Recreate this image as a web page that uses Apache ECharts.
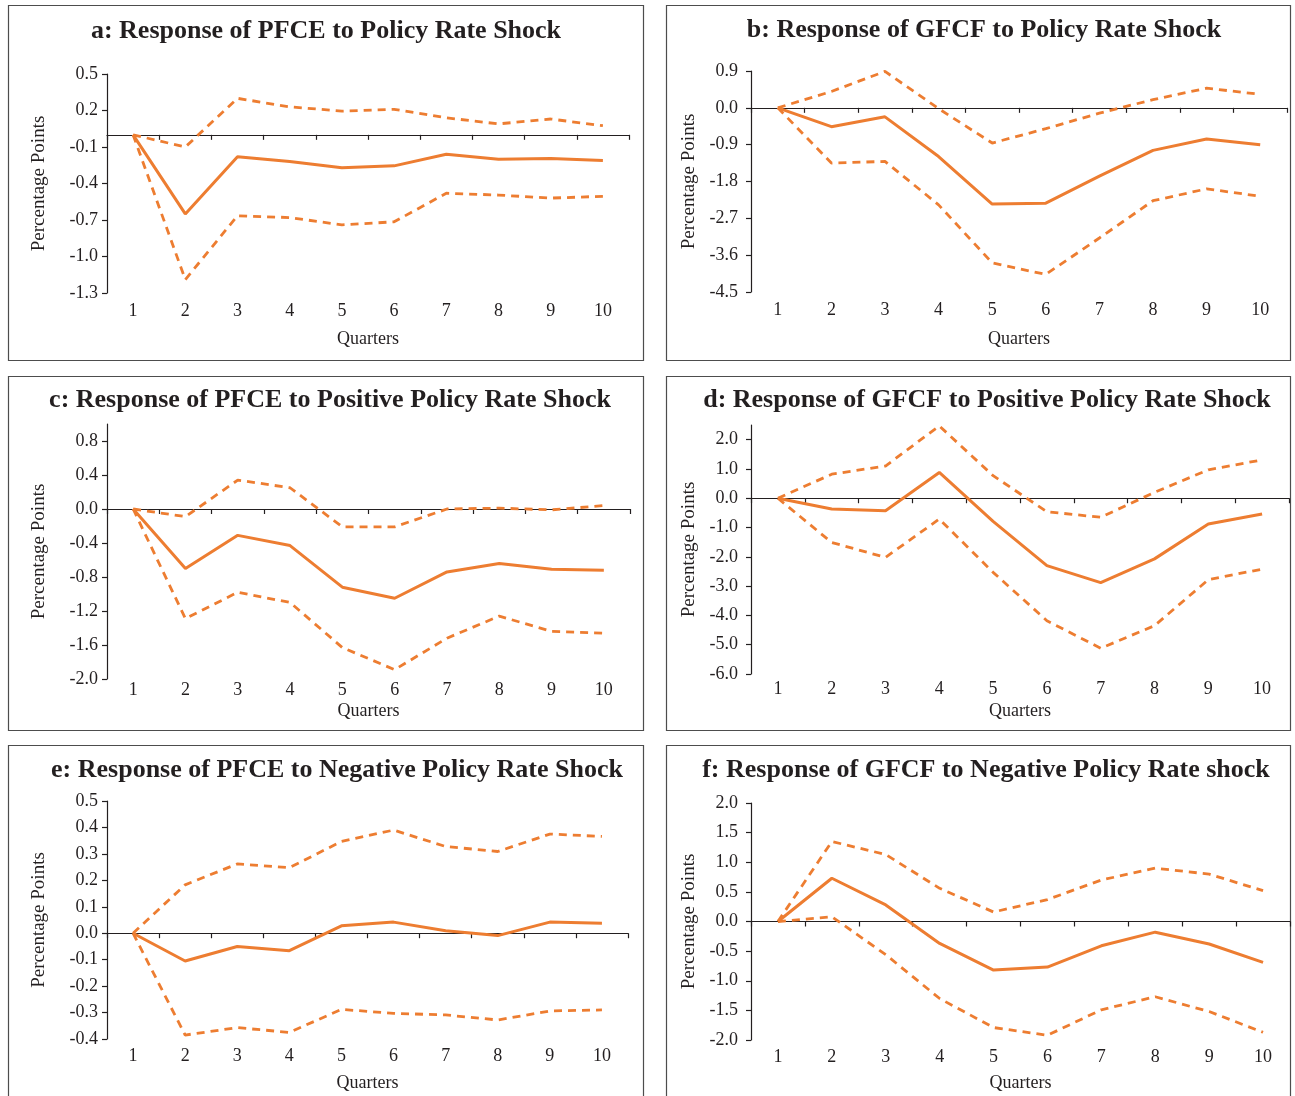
<!DOCTYPE html>
<html>
<head>
<meta charset="utf-8">
<script src="https://cdn.jsdelivr.net/npm/echarts@6/dist/echarts.min.js"></script>
<style>
  html, body { margin: 0; padding: 0; background: #fff; }
  #main { width: 1295px; height: 1096px; }
</style>
</head>
<body>
<div id="main"></div>
<script>
// quarters on the x axis
const quarters = ['1', '2', '3', '4', '5', '6', '7', '8', '9', '10'];

// a: PFCE to policy rate shock
const pfceMid = [0, -0.65, -0.18, -0.22, -0.27, -0.255, -0.16, -0.20, -0.195, -0.21];
const pfceHi  = [0, -0.10, 0.30, 0.23, 0.195, 0.21, 0.14, 0.09, 0.13, 0.075];
const pfceLo  = [0, -1.19, -0.665, -0.68, -0.74, -0.715, -0.48, -0.495, -0.52, -0.505];

// b: GFCF to policy rate shock
const gfcfMid = [0, -0.46, -0.22, -1.19, -2.35, -2.33, -1.67, -1.04, -0.76, -0.90];
const gfcfHi  = [0, 0.40, 0.89, -0.02, -0.86, -0.51, -0.13, 0.20, 0.48, 0.33];
const gfcfLo  = [0, -1.35, -1.31, -2.37, -3.79, -4.07, -3.18, -2.27, -1.98, -2.16];

// c: PFCE to positive shock
const pfcePosMid = [0, -0.70, -0.31, -0.43, -0.92, -1.05, -0.74, -0.64, -0.71, -0.72];
const pfcePosHi  = [0, -0.09, 0.34, 0.25, -0.21, -0.21, 0.0, 0.01, -0.01, 0.04];
const pfcePosLo  = [0, -1.29, -0.98, -1.10, -1.63, -1.89, -1.52, -1.26, -1.44, -1.46];

// d: GFCF to positive shock
const gfcfPosMid = [0, -0.37, -0.43, 0.88, -0.79, -2.30, -2.88, -2.07, -0.88, -0.54];
const gfcfPosHi  = [0, 0.82, 1.10, 2.47, 0.77, -0.46, -0.65, 0.20, 0.97, 1.31];
const gfcfPosLo  = [0, -1.51, -2.02, -0.71, -2.53, -4.18, -5.12, -4.35, -2.78, -2.42];

// e: PFCE to negative shock
const pfceNegMid = [0, -0.105, -0.05, -0.066, 0.028, 0.042, 0.009, -0.009, 0.042, 0.038];
const pfceNegHi  = [0, 0.183, 0.262, 0.248, 0.347, 0.39, 0.328, 0.309, 0.375, 0.366];
const pfceNegLo  = [0, -0.385, -0.357, -0.375, -0.288, -0.303, -0.309, -0.328, -0.294, -0.29];

// f: GFCF to negative shock
const gfcfNegMid = [0, 0.73, 0.28, -0.37, -0.82, -0.77, -0.41, -0.18, -0.38, -0.69];
const gfcfNegHi  = [0, 1.35, 1.13, 0.56, 0.16, 0.37, 0.70, 0.90, 0.80, 0.52];
const gfcfNegLo  = [0, 0.08, -0.56, -1.30, -1.79, -1.92, -1.49, -1.27, -1.52, -1.87];

// y tick labels
const ticksA = [-1.3, -1.0, -0.7, -0.4, -0.1, 0.2, 0.5];
const ticksB = [-4.5, -3.6, -2.7, -1.8, -0.9, 0.0, 0.9];
const ticksC = [-2.0, -1.6, -1.2, -0.8, -0.4, 0.0, 0.4, 0.8];
const ticksD = [-6.0, -5.0, -4.0, -3.0, -2.0, -1.0, 0.0, 1.0, 2.0];
const ticksE = [-0.4, -0.3, -0.2, -0.1, 0.0, 0.1, 0.2, 0.3, 0.4, 0.5];
const ticksF = [-2.0, -1.5, -1.0, -0.5, 0.0, 0.5, 1.0, 1.5, 2.0];

const titles = [
  'a: Response of PFCE to Policy Rate Shock',
  'b: Response of GFCF to Policy Rate Shock',
  'c: Response of PFCE to Positive Policy Rate Shock',
  'd: Response of GFCF to Positive Policy Rate Shock',
  'e: Response of PFCE to Negative Policy Rate Shock',
  'f: Response of GFCF to Negative Policy Rate shock'
];
const yName = 'Percentage Points';
const xName = 'Quarters';

const panels = [
  { mid: pfceMid, hi: pfceHi, lo: pfceLo, ticks: ticksA, min: -1.3, max: 0.5 },
  { mid: gfcfMid, hi: gfcfHi, lo: gfcfLo, ticks: ticksB, min: -4.5, max: 0.9 },
  { mid: pfcePosMid, hi: pfcePosHi, lo: pfcePosLo, ticks: ticksC, min: -2.0, max: 1.0 },
  { mid: gfcfPosMid, hi: gfcfPosHi, lo: gfcfPosLo, ticks: ticksD, min: -6.0, max: 2.5 },
  { mid: pfceNegMid, hi: pfceNegHi, lo: pfceNegLo, ticks: ticksE, min: -0.4, max: 0.5 },
  { mid: gfcfNegMid, hi: gfcfNegHi, lo: gfcfNegLo, ticks: ticksF, min: -2.0, max: 2.0 }
];

// layout of each panel: [left, top, width, height] of plot, box, title centre
const grids = [[107, 74, 522, 219], [751, 71, 536, 221], [107, 424, 523, 255],
               [751, 425, 538, 249], [107, 801, 521, 238], [751, 803, 539, 237]];
const boxes = [[8.5, 5.5, 635, 355], [666.5, 5.5, 624, 355], [8.5, 376.5, 635, 354],
               [666.5, 376.5, 624, 354], [8.5, 745.5, 635, 360], [666.5, 745.5, 624, 360]];
const titlePos = [[326, 31], [984, 30], [330, 400], [987, 400], [337, 770], [986, 770]];
const xLabelMargin = [9, 9, 2, 6, 8, 8];
const xNameGap = [37, 38, 23, 28, 35, 34];

const orange = '#ED7D31';
const ink = '#231f20';
const serif = '"Liberation Serif", "Times New Roman", serif';

const chart = echarts.init(document.getElementById('main'), null, { renderer: 'canvas' });

const grid = [], xAxis = [], yAxis = [], series = [], graphic = [];

for (let i = 0; i < panels.length; i++) {
  const p = panels[i];
  const g = grids[i];
  const left = i % 2 === 0;
  grid.push({ left: g[0], top: g[1], width: g[2], height: g[3] });

  // zero line with the ticks between quarters
  xAxis.push({
    type: 'category', gridIndex: i, data: quarters, boundaryGap: true, position: 'bottom',
    axisLine: { onZero: true, lineStyle: { color: ink, width: 1.2 } },
    axisTick: { show: true, length: 5, lineStyle: { color: ink, width: 1.2 } },
    axisLabel: { show: false }
  });
  // labels at the bottom
  xAxis.push({
    type: 'category', gridIndex: i, data: quarters, boundaryGap: true, position: 'bottom',
    axisLine: { show: false, onZero: false },
    axisTick: { show: false },
    axisLabel: { show: true, margin: xLabelMargin[i], color: ink, fontFamily: serif, fontSize: 18 },
    name: xName, nameLocation: 'middle', nameGap: xNameGap[i],
    nameTextStyle: { color: ink, fontFamily: serif, fontSize: 18 }
  });

  yAxis.push({
    type: 'value', gridIndex: i, min: p.min, max: p.max,
    splitLine: { show: false },
    axisLine: { show: true, lineStyle: { color: ink, width: 1.2 } },
    axisTick: { show: true, length: 5, customValues: p.ticks, lineStyle: { color: ink, width: 1.2 } },
    axisLabel: {
      customValues: p.ticks, margin: left ? 9 : 13, color: ink, fontFamily: serif, fontSize: 18,
      formatter: function (v) { return v.toFixed(1); }
    },
    name: yName, nameLocation: 'middle', nameGap: left ? 58 : 52,
    nameTextStyle: { color: ink, fontFamily: serif, fontSize: 19 }
  });

  const lines = [[p.hi, 'dashed'], [p.lo, 'dashed'], [p.mid, 'solid']];
  lines.forEach(function (l) {
    series.push({
      type: 'line', xAxisIndex: i * 2, yAxisIndex: i, data: l[0],
      symbol: 'none', silent: true, z: 3,
      lineStyle: { color: orange, width: l[1] === 'solid' ? 3 : 2.8, type: l[1] === 'solid' ? 'solid' : [8, 6] }
    });
  });

  const b = boxes[i];
  graphic.push({
    type: 'rect', shape: { x: b[0], y: b[1], width: b[2], height: b[3] },
    style: { fill: 'none', stroke: '#4d4d4d', lineWidth: 1.2 }, silent: true
  });
  graphic.push({
    type: 'text', x: titlePos[i][0], y: titlePos[i][1],
    style: { text: titles[i], fill: ink, font: 'bold 26px ' + serif, textAlign: 'center', textVerticalAlign: 'middle' },
    silent: true
  });
}

chart.setOption({
  animation: false,
  backgroundColor: '#fff',
  grid: grid,
  xAxis: xAxis,
  yAxis: yAxis,
  series: series,
  graphic: graphic
});
</script>
</body>
</html>
